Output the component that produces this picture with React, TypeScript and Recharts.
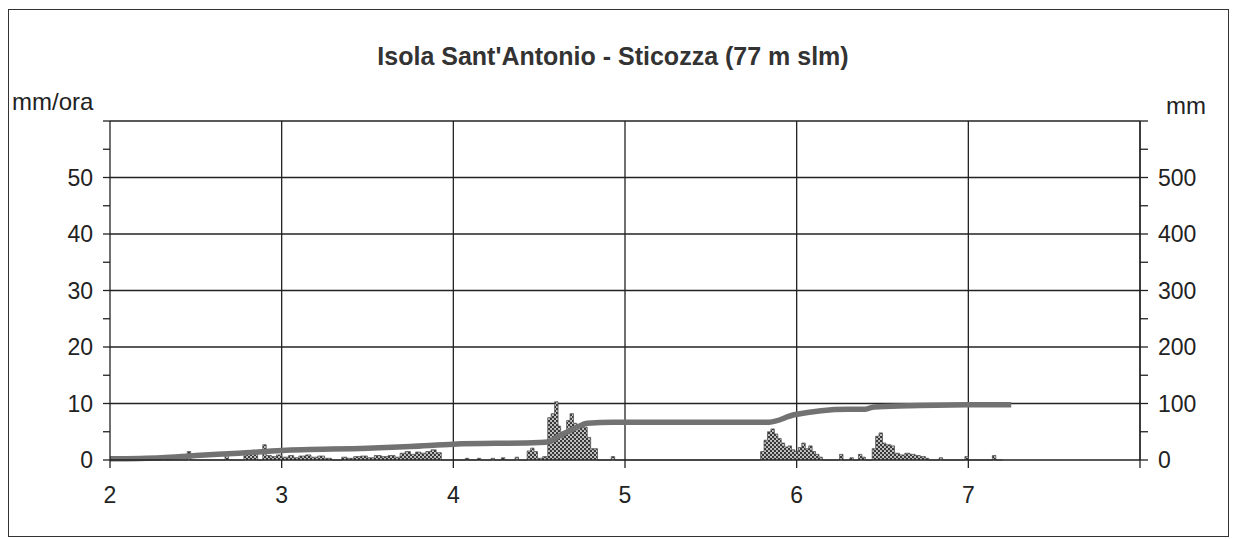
import React from 'react'
import {
  ComposedChart,
  Area,
  Line,
  XAxis,
  YAxis,
  CartesianGrid,
} from 'recharts'

// giorni (asse x)
const DAY_TICKS = [2, 3, 4, 5, 6, 7, 8]
const GRID_DAYS = [3, 4, 5, 6, 7, 8]

// intensità oraria mm/ora (asse sinistro)
const RATE_TICKS = [0, 5, 10, 15, 20, 25, 30, 35, 40, 45, 50, 55, 60]
const GRID_RATES = [10, 20, 30, 40, 50, 60]

// cumulata mm (asse destro)
const CUM_TICKS = [0, 50, 100, 150, 200, 250, 300, 350, 400, 450, 500, 550, 600]

// [giorno, mm/ora]
const RAIN: [number, number][] = [
  [2.0, 0], [2.3, 0.6], [2.32, 0], [2.45, 1.5], [2.47, 0], [2.67, 1.2], [2.69, 0],
  [2.78, 1.0], [2.8, 1.4], [2.83, 1.2], [2.86, 0], [2.89, 2.7], [2.91, 0.8], [2.94, 0.6],
  [2.97, 0.9], [3.0, 0.5], [3.04, 0.8], [3.07, 0.4], [3.1, 0.7], [3.14, 0.9], [3.17, 0.5],
  [3.21, 0.7], [3.25, 0.3], [3.29, 0], [3.35, 0.5], [3.38, 0.3], [3.42, 0.6], [3.46, 0.7],
  [3.5, 0.4], [3.54, 0.8], [3.58, 0.6], [3.62, 0.8], [3.66, 0.5], [3.69, 1.2], [3.72, 1.5],
  [3.75, 1.0], [3.78, 1.4], [3.81, 1.2], [3.84, 1.5], [3.87, 1.8], [3.9, 1.3], [3.93, 0],
  [4.07, 0.3], [4.09, 0], [4.14, 0.3], [4.16, 0], [4.22, 0.3], [4.24, 0], [4.28, 0.4],
  [4.3, 0], [4.36, 0.5], [4.38, 0], [4.43, 1.6], [4.45, 2.1], [4.47, 1.5], [4.49, 0.3],
  [4.52, 0.6], [4.55, 7.5], [4.57, 8.2], [4.59, 10.3], [4.61, 6.0], [4.625, 4.0],
  [4.64, 4.5], [4.66, 7.0], [4.68, 8.2], [4.7, 6.5], [4.72, 6.2], [4.75, 5.8], [4.78, 4.0],
  [4.8, 2.0], [4.84, 0], [4.92, 0.6], [4.94, 0],
  [5.79, 1.5], [5.81, 3.5], [5.83, 5.0], [5.85, 5.5], [5.87, 4.6], [5.89, 3.8], [5.91, 3.0],
  [5.93, 2.3], [5.95, 2.5], [5.97, 1.8], [5.99, 1.5], [6.01, 2.2], [6.03, 3.0], [6.05, 2.0],
  [6.07, 2.5], [6.09, 1.5], [6.11, 1.0], [6.13, 0.5], [6.15, 0], [6.25, 1.0], [6.27, 0],
  [6.31, 0.4], [6.33, 0], [6.36, 1.0], [6.38, 0.5], [6.4, 0], [6.44, 2.0], [6.46, 4.2],
  [6.48, 4.8], [6.5, 3.0], [6.52, 2.7], [6.55, 2.5], [6.57, 1.2], [6.6, 0.9], [6.63, 1.2],
  [6.66, 1.0], [6.69, 0.8], [6.72, 0.6], [6.75, 0.3], [6.77, 0], [6.83, 0.4], [6.85, 0],
  [6.98, 0.6], [7.0, 0], [7.14, 0.8], [7.16, 0], [7.2, 0],
]

// [giorno, mm cumulati]
const CUMULATIVE: [number, number][] = [
  [2.0, 2], [2.3, 4], [2.5, 8], [2.75, 12], [3.0, 17], [3.5, 21], [3.75, 24], [4.0, 28],
  [4.5, 31], [4.55, 32], [4.625, 44], [4.72, 58], [4.78, 65], [4.93, 67], [5.84, 67],
  [5.985, 80], [6.3, 90], [6.4, 90], [6.45, 94], [6.65, 96], [7.0, 98], [7.25, 98],
]

const rainData = RAIN.map(([day, rate]) => ({ day, rate }))
const cumData = CUMULATIVE.map(([day, cum]) => ({ day, cum }))

const FONT = '"Liberation Sans", Arial, sans-serif'
const tickStyle = { fontSize: 23, fill: '#222', fontFamily: FONT }

export default function App() {
  return (
    <div style={{ position: 'absolute', left: 0, top: 0, width: 1234, height: 539, background: '#fff', fontFamily: FONT }}>
      <div style={{ position: 'absolute', left: 8, top: 9, width: 1219, height: 526, border: '1.5px solid #333' }} />
      <div style={{ position: 'absolute', left: 613 - 400, top: 42, width: 800, textAlign: 'center', fontSize: 25, fontWeight: 'bold', color: '#333' }}>
        Isola Sant'Antonio - Sticozza (77 m slm)
      </div>
      <div style={{ position: 'absolute', left: 12, top: 88, fontSize: 24, color: '#222' }}>mm/ora</div>
      <div style={{ position: 'absolute', left: 1166, top: 92, fontSize: 24, color: '#222' }}>mm</div>

      <ComposedChart
        width={1234}
        height={539}
        margin={{ top: 121, right: 14, bottom: 39, left: 50 }}
        style={{ position: 'absolute', left: 0, top: 0 }}
      >
        <defs>
          <pattern id="dots" width="4" height="4" patternUnits="userSpaceOnUse">
            <rect width="4" height="4" fill="#c8c8c8" />
            <circle cx="1" cy="1" r="1.2" fill="#333" />
            <circle cx="3" cy="3" r="1.2" fill="#333" />
          </pattern>
        </defs>
        <CartesianGrid
          xAxisId="x"
          yAxisId="l"
          horizontalValues={GRID_RATES}
          verticalValues={GRID_DAYS}
          stroke="#222"
          strokeWidth={1.3}
        />
        <XAxis
          xAxisId="x"
          dataKey="day"
          type="number"
          domain={[2, 8]}
          ticks={DAY_TICKS}
          allowDataOverflow
          height={40}
          tickSize={8}
          tickMargin={19}
          tick={tickStyle}
          tickFormatter={(v: number) => (v === 8 ? '' : String(v))}
          stroke="#222"
          strokeWidth={1.3}
        />
        <YAxis
          yAxisId="l"
          domain={[0, 60]}
          ticks={RATE_TICKS}
          width={60}
          tickSize={7}
          tickMargin={10}
          tick={tickStyle}
          tickFormatter={(v: number) => (v % 10 === 0 && v < 60 ? String(v) : '')}
          stroke="#222"
          strokeWidth={1.3}
        />
        <YAxis
          yAxisId="r"
          orientation="right"
          domain={[0, 600]}
          ticks={CUM_TICKS}
          width={80}
          tickSize={8}
          tickMargin={10}
          tick={tickStyle}
          tickFormatter={(v: number) => (v % 100 === 0 && v < 600 ? String(v) : '')}
          stroke="#222"
          strokeWidth={1.3}
        />
        <Area
          xAxisId="x"
          yAxisId="l"
          data={rainData}
          dataKey="rate"
          type="stepAfter"
          fill="url(#dots)"
          fillOpacity={1}
          stroke="#555"
          strokeWidth={0.8}
          isAnimationActive={false}
        />
        <Line
          xAxisId="x"
          yAxisId="r"
          data={cumData}
          dataKey="cum"
          type="monotone"
          stroke="#727272"
          strokeWidth={5.5}
          dot={false}
          isAnimationActive={false}
        />
      </ComposedChart>
    </div>
  )
}
